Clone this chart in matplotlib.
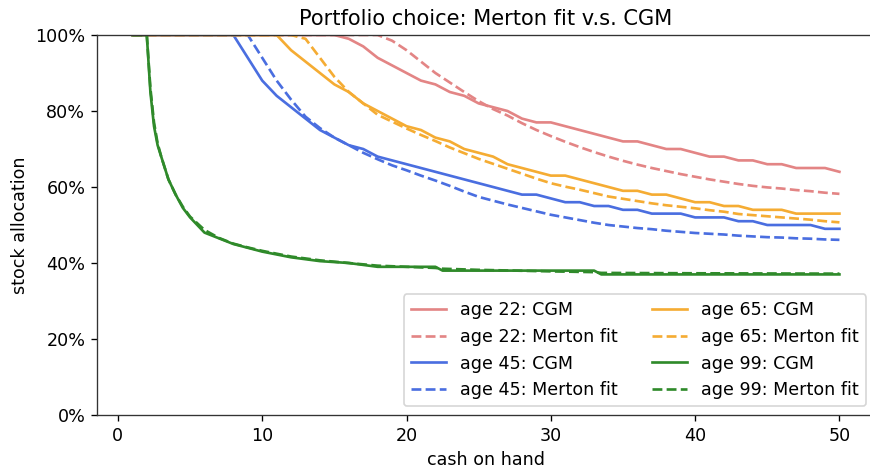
import matplotlib
matplotlib.use("Agg")
import matplotlib.pyplot as plt
from matplotlib.ticker import PercentFormatter

plt.rcParams["font.size"] = 10.5

# cash on hand grid (integer points) for ages 22, 45, 65
x_int = list(range(1, 51))

# age 22
cgm_22 = [1.0] * 15 + [0.99, 0.97, 0.94, 0.92, 0.90, 0.88, 0.87, 0.85, 0.84, 0.82,
                       0.81, 0.80, 0.78, 0.77, 0.77, 0.76, 0.75, 0.74, 0.73, 0.72,
                       0.72, 0.71, 0.70, 0.70, 0.69, 0.68, 0.68, 0.67, 0.67, 0.66,
                       0.66, 0.65, 0.65, 0.65, 0.64]
merton_22 = [1.0] * 18 + [0.985, 0.96, 0.93, 0.90, 0.875, 0.85, 0.826, 0.805, 0.788, 0.768,
                          0.750, 0.734, 0.719, 0.705, 0.692, 0.680, 0.669, 0.659, 0.650, 0.642,
                          0.634, 0.627, 0.620, 0.614, 0.608, 0.603, 0.599, 0.596, 0.592, 0.589,
                          0.585, 0.582]

# age 45
cgm_45 = [1.0] * 8 + [0.94, 0.88, 0.84, 0.81, 0.78, 0.75, 0.73, 0.71, 0.70, 0.68,
                      0.67, 0.66, 0.65, 0.64, 0.63, 0.62, 0.61, 0.60, 0.59, 0.58,
                      0.58, 0.57, 0.56, 0.56, 0.55, 0.55, 0.54, 0.54, 0.53, 0.53,
                      0.53, 0.52, 0.52, 0.52, 0.51, 0.51, 0.50, 0.50, 0.50, 0.50,
                      0.49, 0.49]
merton_45 = [1.0] * 9 + [0.94, 0.88, 0.83, 0.785, 0.755, 0.73, 0.71, 0.69, 0.673, 0.657,
                         0.644, 0.630, 0.617, 0.603, 0.588, 0.574, 0.564, 0.554, 0.545, 0.536,
                         0.527, 0.520, 0.513, 0.506, 0.500, 0.496, 0.492, 0.489, 0.485, 0.482,
                         0.479, 0.477, 0.475, 0.472, 0.470, 0.468, 0.467, 0.465, 0.464, 0.462,
                         0.461]

# age 65
cgm_65 = [1.0] * 11 + [0.96, 0.93, 0.90, 0.87, 0.85, 0.82, 0.80, 0.78, 0.76, 0.75,
                       0.73, 0.72, 0.70, 0.69, 0.68, 0.66, 0.65, 0.64, 0.63, 0.63,
                       0.62, 0.61, 0.60, 0.59, 0.59, 0.58, 0.58, 0.57, 0.56, 0.56,
                       0.55, 0.55, 0.54, 0.54, 0.54, 0.53, 0.53, 0.53, 0.53]
merton_65 = [1.0] * 12 + [0.99, 0.94, 0.89, 0.85, 0.82, 0.79, 0.772, 0.754, 0.737, 0.721,
                          0.704, 0.689, 0.674, 0.661, 0.648, 0.635, 0.622, 0.610, 0.601, 0.593,
                          0.584, 0.575, 0.569, 0.563, 0.557, 0.552, 0.548, 0.544, 0.539, 0.535,
                          0.529, 0.526, 0.523, 0.520, 0.517, 0.514, 0.510, 0.507]

# age 99 (finer grid near the steep drop)
x_99 = [1, 1.5, 2, 2.25, 2.5, 2.75, 3, 3.5, 4, 4.5, 5, 6, 7, 8, 9, 10, 12, 14, 16,
        18, 20, 22, 22.5, 25, 30, 33, 33.5, 40, 50]
cgm_99 = [1.0, 1.0, 1.0, 0.85, 0.76, 0.71, 0.68, 0.62, 0.58, 0.545, 0.52, 0.48, 0.465,
          0.45, 0.44, 0.43, 0.415, 0.405, 0.40, 0.39, 0.39, 0.39, 0.38, 0.38, 0.38, 0.38,
          0.37, 0.37, 0.37]
merton_99 = [1.0, 1.0, 1.0, 0.86, 0.77, 0.715, 0.68, 0.62, 0.58, 0.548, 0.522, 0.487,
             0.466, 0.451, 0.441, 0.432, 0.417, 0.407, 0.40, 0.393, 0.39, 0.387, 0.385,
             0.382, 0.378, 0.376, 0.374, 0.373, 0.372]

series = [
    ("age 22", x_int, cgm_22, merton_22, "#e38585"),
    ("age 45", x_int, cgm_45, merton_45, "#4a6ee0"),
    ("age 65", x_int, cgm_65, merton_65, "#f5ac33"),
    ("age 99", x_99, cgm_99, merton_99, "#2f8a2a"),
]

fig = plt.figure(figsize=(7.25, 3.9), dpi=120)
ax = fig.add_axes([0.1115, 0.1132, 0.894, 0.812])

for name, xs, cgm, mer, col in series:
    ax.plot(xs, cgm, color=col, lw=1.6, label=name + ": CGM")
    ax.plot(xs, mer, color=col, lw=1.6, ls="--", label=name + ": Merton fit")

for s in ax.spines.values():
    s.set_color("#333333")

ax.set_xlim(-1.45, 52.45)
ax.set_ylim(0, 1)
ax.set_xticks([0, 10, 20, 30, 40, 50])
ax.yaxis.set_major_formatter(PercentFormatter(1.0, decimals=0))
ax.set_title("Portfolio choice: Merton fit v.s. CGM", fontsize=12.6)
ax.set_xlabel("cash on hand")
ax.set_ylabel("stock allocation")
ax.legend(loc="lower right", ncol=2)

fig.savefig("out.png", dpi=120)
